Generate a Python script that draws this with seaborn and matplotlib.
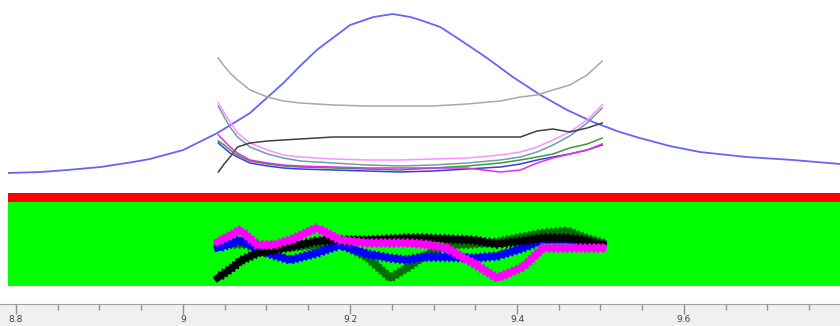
import numpy as np
import pandas as pd
import matplotlib
matplotlib.use("Agg")
import matplotlib.pyplot as plt
import matplotlib.patheffects as pe
from matplotlib.ticker import MultipleLocator, FuncFormatter
import seaborn as sns

# reference peak (blue curve, top panel)
peak_x = [8.790, 8.829, 8.861, 8.901, 8.940, 8.960, 9.000, 9.041, 9.080, 9.120,
          9.140, 9.160, 9.200, 9.228, 9.251, 9.272, 9.284, 9.308, 9.332, 9.364,
          9.395, 9.428, 9.460, 9.491, 9.523, 9.547, 9.583, 9.619, 9.675, 9.731, 9.787]
peak_y = [19, 20, 22, 25, 30, 33, 42, 59, 79, 109,
          126, 142, 167, 175, 178, 175, 172, 165, 152, 134,
          115, 97, 82, 70, 60, 54, 46, 40, 35, 32, 28]

# scans in top panel
scan_x = [9.042, 9.049, 9.056, 9.065, 9.080, 9.101, 9.120, 9.140, 9.180, 9.220,
          9.260, 9.299, 9.340, 9.380, 9.404, 9.424, 9.443, 9.463, 9.484, 9.502]
scan_gray = [134, 126, 119, 112, 102, 95, 91, 89, 87, 86, 86, 86, 88, 91, 95, 97, 102, 107, 117, 131]
scan_pink = [89, 79, 70, 59, 49, 42, 37, 35, 33, 32, 32, 33, 34, 37, 40, 45, 52, 60, 72, 87]
scan_teal = [86, 75, 65, 55, 45, 38, 34, 31, 29, 27, 26, 27, 29, 32, 35, 40, 47, 56, 69, 84]
scan_dark = [20, 28, 35, 45, 49, 51, 52, 53, 55, 55, 55, 55, 55, 55, 55, 61, 63, 60, 64, 69]
scan_blue = [49, 44, 39, 35, 29, 26, 24, 23, 22, 21, 20, 21, 23, 25, 28, 32, 35, 38, 42, 47]
scan_green = [51, 47, 42, 37, 31, 28, 26, 25, 24, 23, 22, 24, 26, 29, 32, 35, 38, 44, 48, 54]
scan_magenta = [57, 51, 45, 39, 32, 29, 27, 26, 25, 24, 24, 24, 24, 20, 22, 29, 34, 38, 42, 48]

# residual traces in green band
res_x = [9.041, 9.060, 9.068, 9.089, 9.108, 9.128, 9.160, 9.188, 9.220, 9.248,
         9.268, 9.287, 9.316, 9.347, 9.376, 9.407, 9.431, 9.460, 9.479, 9.503]
res_darkgreen = [43, 42, 42, 41, 40, 39, 41, 43, 29, 8, 18, 29, 41, 42, 44, 49, 53, 55, 49, 43]
res_blue = [38, 43, 46, 36, 31, 26, 33, 41, 32, 28, 26, 29, 29, 28, 30, 38, 46, 46, 44, 41]
res_black = [8, 19, 25, 33, 36, 39, 45, 46, 46, 47, 48, 48, 47, 46, 42, 45, 48, 48, 46, 41]
res_magenta = [44, 52, 56, 41, 41, 46, 58, 46, 43, 43, 43, 42, 38, 23, 8, 19, 38, 38, 38, 38]

W, H = 840, 326
fig = plt.figure(figsize=(8.4, 3.26), dpi=100)
fig.patch.set_facecolor("white")

def box(left, top, right, bottom):
    return [left / W, (H - bottom) / H, (right - left) / W, (bottom - top) / H]

xlim = (8.790, 9.787)

# top panel
ax1 = fig.add_axes(box(8, 0, 840, 192))
sns.lineplot(x=peak_x, y=peak_y, ax=ax1, color="#6464ff", lw=1.3, sort=False, estimator=None)
top_scans = [(scan_gray, "#a8a8a8"), (scan_teal, "#6a9fa8"), (scan_pink, "#ff90ff"),
             (scan_dark, "#404040"), (scan_green, "#3a9a3a"), (scan_blue, "#3838f0"),
             (scan_magenta, "#e030e0")]
for vals, c in top_scans:
    sns.lineplot(x=scan_x, y=vals, ax=ax1, color=c, lw=1.1, sort=False, estimator=None)
ax1.set_xlim(*xlim)
ax1.set_ylim(0, 192)
ax1.axis("off")

# red / green band with residuals
ax2 = fig.add_axes(box(8, 193, 840, 286))
ax2.set_facecolor("#00ff00")
ax2.axhspan(84, 93, color="#ff0000", lw=0)
res = [(res_darkgreen, "#007000"), (res_blue, "#0000ff"),
       (res_black, "#000000"), (res_magenta, "#ff00ff")]
for vals, c in res:
    sns.lineplot(x=res_x, y=vals, ax=ax2, color=c, lw=5, sort=False, estimator=None,
                 path_effects=[pe.Normal(),
                               pe.TickedStroke(spacing=3.2, angle=60, length=1.0, linewidth=1.4, foreground=c),
                               pe.TickedStroke(spacing=3.2, angle=-60, length=1.0, linewidth=1.4, foreground=c)])
ax2.set_xlim(*xlim)
ax2.set_ylim(0, 93)
ax2.set_xticks([])
ax2.set_yticks([])
for s in ax2.spines.values():
    s.set_visible(False)

# ruler
ax3 = fig.add_axes(box(0, 304, 840, 326))
ax3.set_facecolor("#f0f0f0")
ax3.set_xlim(8.8 - 16 / 835, 8.8 + 824 / 835)
ax3.set_ylim(0, 1)
ax3.set_yticks([])
ax3.xaxis.set_major_locator(MultipleLocator(0.2))
ax3.xaxis.set_minor_locator(MultipleLocator(0.05))
ax3.xaxis.set_major_formatter(FuncFormatter(lambda v, p: f"{v:g}"))
ax3.tick_params(axis="x", which="both", top=True, bottom=False, labeltop=True,
                labelbottom=False, direction="in", color="#909090", width=1)
ax3.tick_params(axis="x", which="major", length=7, pad=-14.5, labelsize=6.5, labelcolor="#404040")
ax3.tick_params(axis="x", which="minor", length=4)
for k, s in ax3.spines.items():
    s.set_visible(k == "top")
ax3.spines["top"].set_color("#a0a0a0")

fig.savefig("out.png", dpi=100)
